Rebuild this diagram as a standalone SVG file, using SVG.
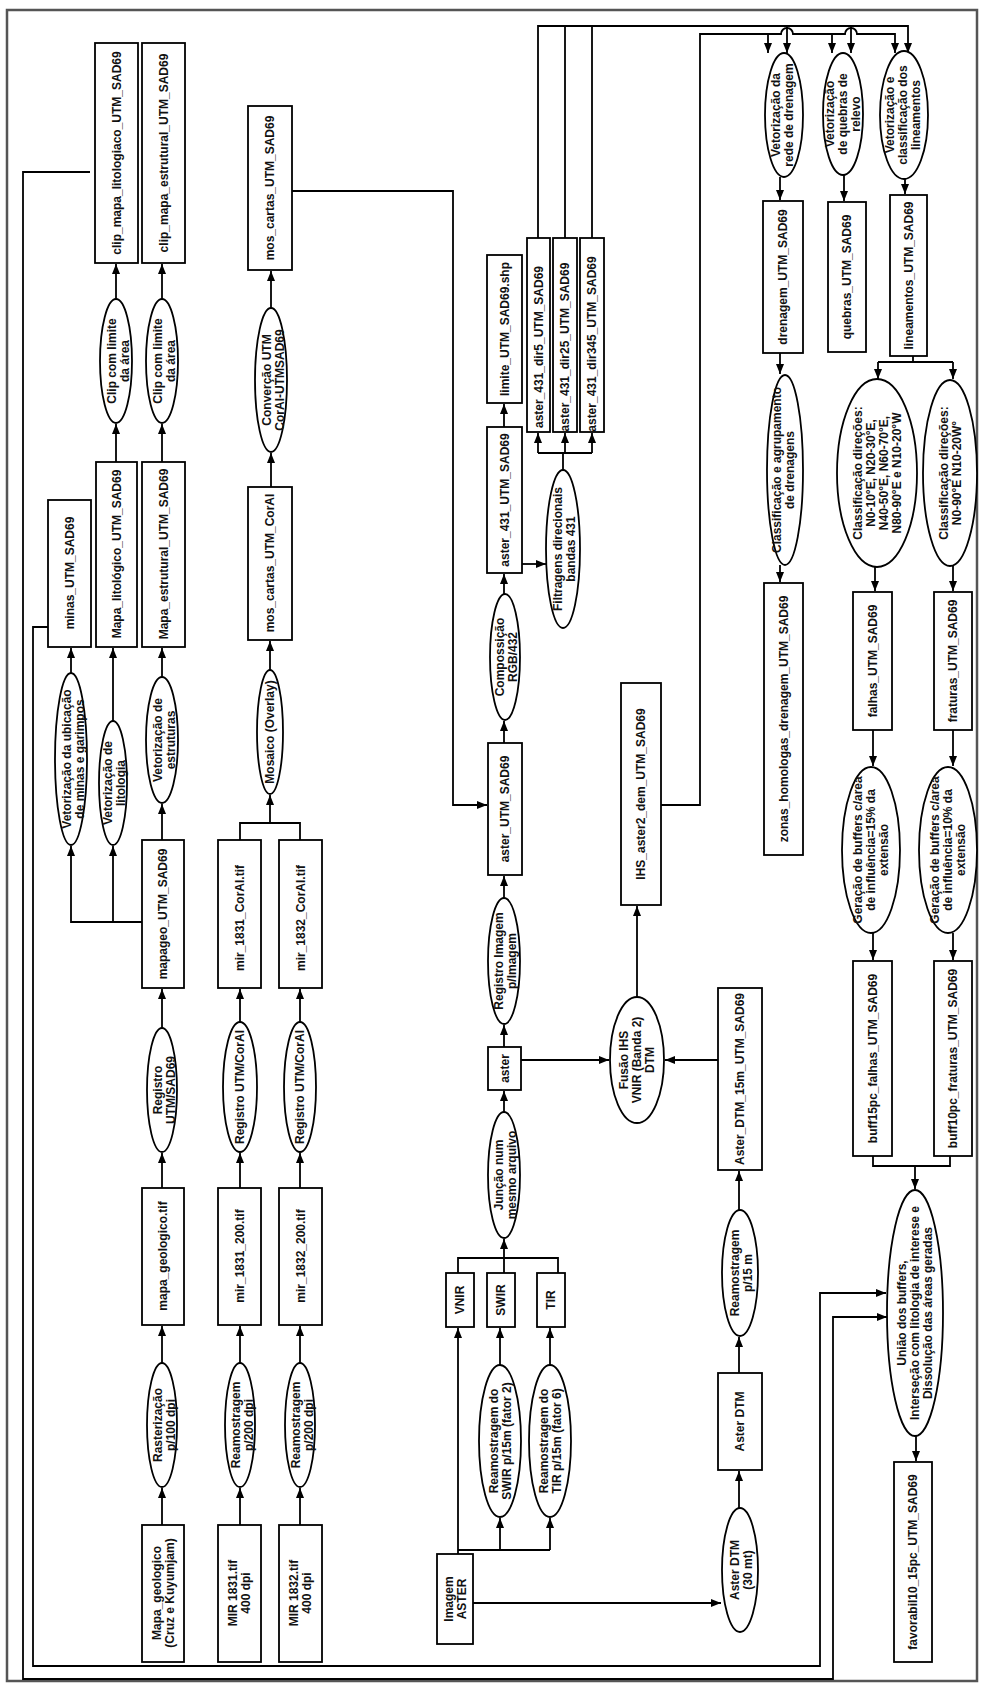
<svg xmlns="http://www.w3.org/2000/svg" width="981" height="1683" viewBox="0 0 981 1683">
<style>
.b{fill:#fff;stroke:#000;stroke-width:1.8}
.e{fill:#fff;stroke:#000;stroke-width:1.8}
text{font-family:"Liberation Sans",Arial,sans-serif;font-size:12px;font-weight:bold;text-anchor:middle;fill:#111}
.c path{fill:none;stroke:#000;stroke-width:1.8}
.c .a{marker-end:url(#ar)}
</style>
<defs>
<marker id="ar" viewBox="0 0 10 8" refX="10" refY="4" markerWidth="10" markerHeight="8" markerUnits="userSpaceOnUse" orient="auto"><path d="M0,0L10,4L0,8z" fill="#000"/></marker>
</defs>
<rect x="7" y="10" width="970" height="1671" fill="#fff" stroke="#555" stroke-width="2.5"/>
<g id="connectors" class="c">
<path class="a" d="M116,299V264"/>
<path class="a" d="M116,462V424"/>
<path class="a" d="M162,299V264"/>
<path class="a" d="M162,462V424"/>
<path class="a" d="M271,308V271"/>
<path class="a" d="M271,487V453"/>
<path class="a" d="M292,191H453V805H487"/>
<path class="a" d="M71,673V648"/>
<path class="a" d="M113,721V648"/>
<path class="a" d="M162,677V648"/>
<path class="a" d="M162,840V804"/>
<path class="a" d="M142,922H71V846"/>
<path class="a" d="M113,922V846"/>
<path class="a" d="M270,670V641"/>
<path d="M240,840V823H300V840"/>
<path class="a" d="M270,823V795"/>
<path class="a" d="M162,1028V989"/>
<path class="a" d="M240,1022V989"/>
<path class="a" d="M300,1022V989"/>
<path class="a" d="M162,1188V1153"/>
<path class="a" d="M240,1188V1153"/>
<path class="a" d="M300,1188V1153"/>
<path class="a" d="M162,1363V1326"/>
<path class="a" d="M240,1363V1326"/>
<path class="a" d="M300,1363V1326"/>
<path class="a" d="M162,1525V1488"/>
<path class="a" d="M240,1525V1488"/>
<path class="a" d="M300,1525V1488"/>
<path class="a" d="M458,1554V1328"/>
<path d="M458,1550H550"/>
<path class="a" d="M500,1550V1518"/>
<path class="a" d="M550,1550V1518"/>
<path class="a" d="M500,1365V1328"/>
<path class="a" d="M550,1365V1328"/>
<path d="M458,1273V1258H558V1273M504,1258V1273"/>
<path class="a" d="M504,1258V1239"/>
<path class="a" d="M504,1112V1091"/>
<path class="a" d="M504,1047V1025"/>
<path class="a" d="M504,898V876"/>
<path class="a" d="M504,743V721"/>
<path class="a" d="M504,594V574"/>
<path class="a" d="M504,427V404"/>
<path class="a" d="M522,564H546"/>
<path d="M563,470V453M538,453H592"/>
<path class="a" d="M538,453V433"/>
<path class="a" d="M565,453V433"/>
<path class="a" d="M592,453V433"/>
<path class="a" d="M521,1060H609"/>
<path class="a" d="M718,1060H665"/>
<path class="a" d="M637,997V906"/>
<path class="a" d="M473,1603H721"/>
<path class="a" d="M739,1508V1471"/>
<path class="a" d="M739,1373V1337"/>
<path class="a" d="M739,1210V1171"/>
<path class="a" d="M661,805H700V34H781a6,6 0 0 1 12,0H845a6,6 0 0 1 12,0H895V53"/>
<path class="a" d="M768,34V53"/>
<path class="a" d="M832,34V53"/>
<path class="a" d="M538,238V26H908V53"/>
<path d="M565,238V26M592,238V26"/>
<path class="a" d="M787,26V53"/>
<path class="a" d="M851,26V53"/>
<path class="a" d="M780,177V200"/>
<path class="a" d="M844,175V201"/>
<path class="a" d="M905,179V194"/>
<path class="a" d="M780,353V374"/>
<path d="M913,356V362M878,362H953"/>
<path class="a" d="M878,362V379"/>
<path class="a" d="M953,362V379"/>
<path class="a" d="M780,565V582"/>
<path class="a" d="M875,567V591"/>
<path class="a" d="M953,566V591"/>
<path class="a" d="M873,730V766"/>
<path class="a" d="M953,730V766"/>
<path class="a" d="M873,933V960"/>
<path class="a" d="M953,933V960"/>
<path d="M873,1156V1166H950V1156"/>
<path class="a" d="M915,1166V1189"/>
<path class="a" d="M916,1436V1461"/>
<path class="a" d="M48,627H33V1666H820V1293H886"/>
<path class="a" d="M90,172H23V1679H833V1317H887"/>
</g>

<g id="n_clip_lito"><rect class="b" x="95" y="43" width="43" height="220"/><text transform="translate(116.5,153) rotate(-90)" y="4">clip_mapa_litologiaco_UTM_SAD69</text></g>
<g id="n_clip_estr"><rect class="b" x="142" y="43" width="43" height="220"/><text transform="translate(163.5,153) rotate(-90)" y="4">clip_mapa_estrutural_UTM_SAD69</text></g>
<g id="n_mos_sad"><rect class="b" x="248" y="106" width="44" height="164"/><text transform="translate(270,188) rotate(-90)" y="4">mos_cartas_UTM_SAD69</text></g>
<g id="n_minas"><rect class="b" x="48" y="500" width="43" height="147"/><text transform="translate(70,573) rotate(-90)" y="4">minas_UTM_SAD69</text></g>
<g id="n_mapa_lito"><rect class="b" x="96" y="462" width="41" height="185"/><text transform="translate(116.5,554) rotate(-90)" y="4">Mapa_litológico_UTM_SAD69</text></g>
<g id="n_mapa_estr"><rect class="b" x="142" y="462" width="43" height="185"/><text transform="translate(163.5,554) rotate(-90)" y="4">Mapa_estrutural_UTM_SAD69</text></g>
<g id="n_mos_coral"><rect class="b" x="248" y="487" width="44" height="153"/><text transform="translate(270,563) rotate(-90)" y="4">mos_cartas_UTM_CorAl</text></g>
<g id="n_mapageo"><rect class="b" x="142" y="840" width="42" height="148"/><text transform="translate(163,914) rotate(-90)" y="4">mapageo_UTM_SAD69</text></g>
<g id="n_mir1831c"><rect class="b" x="218" y="840" width="43" height="148"/><text transform="translate(239.5,918) rotate(-90)" y="4">mir_1831_CorAl.tif</text></g>
<g id="n_mir1832c"><rect class="b" x="279" y="840" width="43" height="148"/><text transform="translate(300.5,918) rotate(-90)" y="4">mir_1832_CorAl.tif</text></g>
<g id="n_mapageotif"><rect class="b" x="142" y="1188" width="42" height="137"/><text transform="translate(163,1256) rotate(-90)" y="4">mapa_geologico.tif</text></g>
<g id="n_mir1831_200"><rect class="b" x="218" y="1188" width="43" height="137"/><text transform="translate(239.5,1256) rotate(-90)" y="4">mir_1831_200.tif</text></g>
<g id="n_mir1832_200"><rect class="b" x="279" y="1188" width="43" height="137"/><text transform="translate(300.5,1256) rotate(-90)" y="4">mir_1832_200.tif</text></g>
<g id="n_mapa_geo"><rect class="b" x="142" y="1525" width="42" height="137"/><text transform="translate(163,1593) rotate(-90)"><tspan x="0" y="-2.5">Mapa_geologico</tspan><tspan x="0" y="10.5">(Cruz e Kuyumjam)</tspan></text></g>
<g id="n_mir1831"><rect class="b" x="218" y="1525" width="43" height="137"/><text transform="translate(239.5,1593) rotate(-90)"><tspan x="0" y="-2.5">MIR 1831.tif</tspan><tspan x="0" y="10.5">400 dpi</tspan></text></g>
<g id="n_mir1832"><rect class="b" x="279" y="1525" width="43" height="137"/><text transform="translate(300.5,1593) rotate(-90)"><tspan x="0" y="-2.5">MIR 1832.tif</tspan><tspan x="0" y="10.5">400 dpi</tspan></text></g>

<g id="e_clip1"><ellipse class="e" cx="116" cy="361" rx="16" ry="62"/><text transform="translate(118,361) rotate(-90)"><tspan x="0" y="-2.5">Clip com limite</tspan><tspan x="0" y="10.5">da área</tspan></text></g>
<g id="e_clip2"><ellipse class="e" cx="162" cy="361" rx="16" ry="62"/><text transform="translate(164,361) rotate(-90)"><tspan x="0" y="-2.5">Clip com limite</tspan><tspan x="0" y="10.5">da área</tspan></text></g>
<g id="e_conv"><ellipse class="e" cx="271" cy="380" rx="16" ry="72"/><text transform="translate(273,380) rotate(-90)"><tspan x="0" y="-2.5">Converção UTM</tspan><tspan x="0" y="10.5">CorAl-UTMSAD69</tspan></text></g>
<g id="e_vub"><ellipse class="e" cx="71" cy="759" rx="16" ry="86"/><text transform="translate(73,759) rotate(-90)"><tspan x="0" y="-2.5">Vetorização da ubicação</tspan><tspan x="0" y="10.5">de minas e garimpos</tspan></text></g>
<g id="e_vlit"><ellipse class="e" cx="113" cy="783" rx="14" ry="62"/><text transform="translate(114,783) rotate(-90)"><tspan x="0" y="-2.5">Vetorização de</tspan><tspan x="0" y="10.5">litologia</tspan></text></g>
<g id="e_vest"><ellipse class="e" cx="162" cy="740" rx="16" ry="63"/><text transform="translate(164,740) rotate(-90)"><tspan x="0" y="-2.5">Vetorização de</tspan><tspan x="0" y="10.5">estruturas</tspan></text></g>
<g id="e_mos"><ellipse class="e" cx="270" cy="732" rx="13" ry="62"/><text transform="translate(270,732) rotate(-90)" y="4">Mosaico (Overlay)</text></g>
<g id="e_reg1"><ellipse class="e" cx="162" cy="1090" rx="15" ry="62"/><text transform="translate(164,1090) rotate(-90)"><tspan x="0" y="-2.5">Registro</tspan><tspan x="0" y="10.5">UTM/SAD69</tspan></text></g>
<g id="e_reg2"><ellipse class="e" cx="240" cy="1087" rx="17" ry="65"/><text transform="translate(240,1087) rotate(-90)" y="4">Registro UTM/CorAl</text></g>
<g id="e_reg3"><ellipse class="e" cx="300" cy="1087" rx="16" ry="65"/><text transform="translate(300,1087) rotate(-90)" y="4">Registro UTM/CorAl</text></g>
<g id="e_ras"><ellipse class="e" cx="162" cy="1425" rx="15" ry="62"/><text transform="translate(164,1425) rotate(-90)"><tspan x="0" y="-2.5">Rasterização</tspan><tspan x="0" y="10.5">p/100 dpi</tspan></text></g>
<g id="e_rea1"><ellipse class="e" cx="240" cy="1425" rx="15" ry="62"/><text transform="translate(242,1425) rotate(-90)"><tspan x="0" y="-2.5">Reamostragem</tspan><tspan x="0" y="10.5">p/200 dpi</tspan></text></g>
<g id="e_rea2"><ellipse class="e" cx="300" cy="1425" rx="15" ry="62"/><text transform="translate(302,1425) rotate(-90)"><tspan x="0" y="-2.5">Reamostragem</tspan><tspan x="0" y="10.5">p/200 dpi</tspan></text></g>

<g id="n_vnir"><rect class="b" x="446" y="1273" width="28" height="54"/><text transform="translate(460,1300) rotate(-90)" y="4">VNIR</text></g>
<g id="n_swir"><rect class="b" x="487" y="1273" width="28" height="54"/><text transform="translate(501,1300) rotate(-90)" y="4">SWIR</text></g>
<g id="n_tir"><rect class="b" x="537" y="1273" width="28" height="54"/><text transform="translate(551,1300) rotate(-90)" y="4">TIR</text></g>
<g id="n_imagem"><rect class="b" x="437" y="1554" width="36" height="90"/><text transform="translate(455,1599) rotate(-90)"><tspan x="0" y="-2.5">Imagem</tspan><tspan x="0" y="10.5">ASTER</tspan></text></g>
<g id="e_swir"><ellipse class="e" cx="500" cy="1441" rx="21" ry="76"/><text transform="translate(500,1441) rotate(-90)"><tspan x="0" y="-2.5">Reamostragem do</tspan><tspan x="0" y="10.5">SWIR  p/15m (fator 2)</tspan></text></g>
<g id="e_tir"><ellipse class="e" cx="550" cy="1441" rx="21" ry="76"/><text transform="translate(550,1441) rotate(-90)"><tspan x="0" y="-2.5">Reamostragem do</tspan><tspan x="0" y="10.5">TIR  p/15m (fator 6)</tspan></text></g>
<g id="e_jun"><ellipse class="e" cx="504" cy="1175" rx="16" ry="63"/><text transform="translate(505,1175) rotate(-90)"><tspan x="0" y="-2.5">Junção num</tspan><tspan x="0" y="10.5">mesmo arquivo</tspan></text></g>
<g id="n_aster"><rect class="b" x="488" y="1047" width="33" height="43"/><text transform="translate(504.5,1068.5) rotate(-90)" y="4">aster</text></g>
<g id="e_regimg"><ellipse class="e" cx="504" cy="961" rx="16" ry="63"/><text transform="translate(505,961) rotate(-90)"><tspan x="0" y="-2.5">Registro Imagem</tspan><tspan x="0" y="10.5">p/Imagem</tspan></text></g>
<g id="n_aster_sad"><rect class="b" x="488" y="743" width="34" height="132"/><text transform="translate(505,809) rotate(-90)" y="4">aster_UTM_SAD69</text></g>
<g id="e_comp"><ellipse class="e" cx="505" cy="657" rx="15" ry="63"/><text transform="translate(506,657) rotate(-90)"><tspan x="0" y="-2.5">Compossição</tspan><tspan x="0" y="10.5">RGB/432</tspan></text></g>
<g id="n_aster431"><rect class="b" x="487" y="427" width="35" height="146"/><text transform="translate(504.5,500) rotate(-90)" y="4">aster_431_UTM_SAD69</text></g>
<g id="n_limite"><rect class="b" x="487" y="255" width="35" height="148"/><text transform="translate(504.5,329) rotate(-90)" y="4">limite_UTM_SAD69.shp</text></g>
<g id="e_filt"><ellipse class="e" cx="563" cy="549" rx="17" ry="79"/><text transform="translate(564,549) rotate(-90)"><tspan x="0" y="-2.5">Filtragens direcionais</tspan><tspan x="0" y="10.5">bandas 431</tspan></text></g>
<g id="n_dir5"><rect class="b" x="527" y="238" width="23" height="194"/><text transform="translate(538.5,347) rotate(-90)" y="4">aster_431_dir5_UTM_SAD69</text></g>
<g id="n_dir25"><rect class="b" x="553" y="238" width="24" height="194"/><text transform="translate(565,347) rotate(-90)" y="4">aster_431_dir25_UTM_SAD69</text></g>
<g id="n_dir345"><rect class="b" x="580" y="238" width="24" height="194"/><text transform="translate(592,344) rotate(-90)" y="4">aster_431_dir345_UTM_SAD69</text></g>
<g id="e_fus"><ellipse class="e" cx="637" cy="1060" rx="27" ry="63"/><text transform="translate(637,1060) rotate(-90)"><tspan x="0" y="-9">Fusão IHS</tspan><tspan x="0" y="4">VNIR (Banda 2)</tspan><tspan x="0" y="17">DTM</tspan></text></g>
<g id="n_ihs"><rect class="b" x="621" y="683" width="40" height="222"/><text transform="translate(641,794) rotate(-90)" y="4">IHS_aster2_dem_UTM_SAD69</text></g>
<g id="e_dtm30"><ellipse class="e" cx="740" cy="1570" rx="18" ry="62"/><text transform="translate(741,1570) rotate(-90)"><tspan x="0" y="-2.5">Aster DTM</tspan><tspan x="0" y="10.5">(30 mt)</tspan></text></g>
<g id="n_dtm"><rect class="b" x="718" y="1373" width="44" height="97"/><text transform="translate(740,1421.5) rotate(-90)" y="4">Aster DTM</text></g>
<g id="e_rea15"><ellipse class="e" cx="740" cy="1273" rx="18" ry="63"/><text transform="translate(741,1273) rotate(-90)"><tspan x="0" y="-2.5">Reamostragem</tspan><tspan x="0" y="10.5">p/15 m</tspan></text></g>
<g id="n_dtm15"><rect class="b" x="718" y="988" width="44" height="182"/><text transform="translate(740,1079) rotate(-90)" y="4">Aster_DTM_15m_UTM_SAD69</text></g>

<g id="e_vdren"><ellipse class="e" cx="784" cy="115" rx="19" ry="62"/><text transform="translate(782,115) rotate(-90)"><tspan x="0" y="-2.5">Vetorização da</tspan><tspan x="0" y="10.5">rede de drenagem</tspan></text></g>
<g id="e_vqueb"><ellipse class="e" cx="843" cy="114" rx="20" ry="61"/><text transform="translate(843,114) rotate(-90)"><tspan x="0" y="-9">Vetorização</tspan><tspan x="0" y="4">de quebras de</tspan><tspan x="0" y="17">relevo</tspan></text></g>
<g id="e_vlin"><ellipse class="e" cx="904" cy="115" rx="24" ry="64"/><text transform="translate(903,115) rotate(-90)"><tspan x="0" y="-9">Vetorização e</tspan><tspan x="0" y="4">classificação dos</tspan><tspan x="0" y="17">lineamentos</tspan></text></g>
<g id="n_dren"><rect class="b" x="763" y="201" width="40" height="152"/><text transform="translate(783,277) rotate(-90)" y="4">drenagem_UTM_SAD69</text></g>
<g id="n_queb"><rect class="b" x="828" y="202" width="38" height="150"/><text transform="translate(847,277) rotate(-90)" y="4">quebras_UTM_SAD69</text></g>
<g id="n_lin"><rect class="b" x="890" y="195" width="37" height="161"/><text transform="translate(908.5,275.5) rotate(-90)" y="4">lineamentos_UTM_SAD69</text></g>
<g id="e_cdren"><ellipse class="e" cx="785" cy="470" rx="18" ry="95"/><text transform="translate(783,470) rotate(-90)"><tspan x="0" y="-2.5">Classificação e agrupamento</tspan><tspan x="0" y="10.5">de drenagens</tspan></text></g>
<g id="n_zonas"><rect class="b" x="764" y="583" width="39" height="272"/><text transform="translate(783.5,719) rotate(-90)" y="4">zonas_homologas_drenagem_UTM_SAD69</text></g>
<g id="e_cl1"><ellipse class="e" cx="877" cy="473" rx="40" ry="94"/><text transform="translate(877,473) rotate(-90)"><tspan x="0" y="-15.5">Classificação  direções:</tspan><tspan x="0" y="-2.5">N0-10°E, N20-30°E,</tspan><tspan x="0" y="10.5">N40-50°E, N60-70°E,</tspan><tspan x="0" y="23.5">N80-90°E e N10-20°W</tspan></text></g>
<g id="e_cl2"><ellipse class="e" cx="950" cy="473" rx="27" ry="93"/><text transform="translate(950,473) rotate(-90)"><tspan x="0" y="-2.5">Classificação  direções:</tspan><tspan x="0" y="10.5">N0-90°E N10-20W°</tspan></text></g>
<g id="n_falhas"><rect class="b" x="853" y="592" width="39" height="138"/><text transform="translate(872.5,661) rotate(-90)" y="4">falhas_UTM_SAD69</text></g>
<g id="n_fraturas"><rect class="b" x="934" y="592" width="38" height="138"/><text transform="translate(953,661) rotate(-90)" y="4">fraturas_UTM_SAD69</text></g>
<g id="e_ger1"><ellipse class="e" cx="871" cy="850" rx="29" ry="83"/><text transform="translate(871,850) rotate(-90)"><tspan x="0" y="-9">Geração de buffers c/area</tspan><tspan x="0" y="4">de influência=15% da</tspan><tspan x="0" y="17">extensão</tspan></text></g>
<g id="e_ger2"><ellipse class="e" cx="948" cy="850" rx="29" ry="83"/><text transform="translate(948,850) rotate(-90)"><tspan x="0" y="-9">Geração de buffers c/area</tspan><tspan x="0" y="4">de influência=10% da</tspan><tspan x="0" y="17">extensão</tspan></text></g>
<g id="n_buff15"><rect class="b" x="853" y="961" width="39" height="195"/><text transform="translate(872.5,1058.5) rotate(-90)" y="4">buff15pc_falhas_UTM_SAD69</text></g>
<g id="n_buff10"><rect class="b" x="934" y="961" width="38" height="195"/><text transform="translate(953,1058.5) rotate(-90)" y="4">buff10pc_fraturas_UTM_SAD69</text></g>
<g id="e_uniao"><ellipse class="e" cx="915" cy="1313" rx="28" ry="123"/><text transform="translate(915,1313) rotate(-90)"><tspan x="0" y="-9">União dos buffers,</tspan><tspan x="0" y="4">Interseção com litologia de interese e</tspan><tspan x="0" y="17">Dissolução das áreas geradas</tspan></text></g>
<g id="n_fav"><rect class="b" x="894" y="1462" width="38" height="200"/><text transform="translate(913,1562) rotate(-90)" y="4">favorabil10_15pc_UTM_SAD69</text></g>
</svg>
